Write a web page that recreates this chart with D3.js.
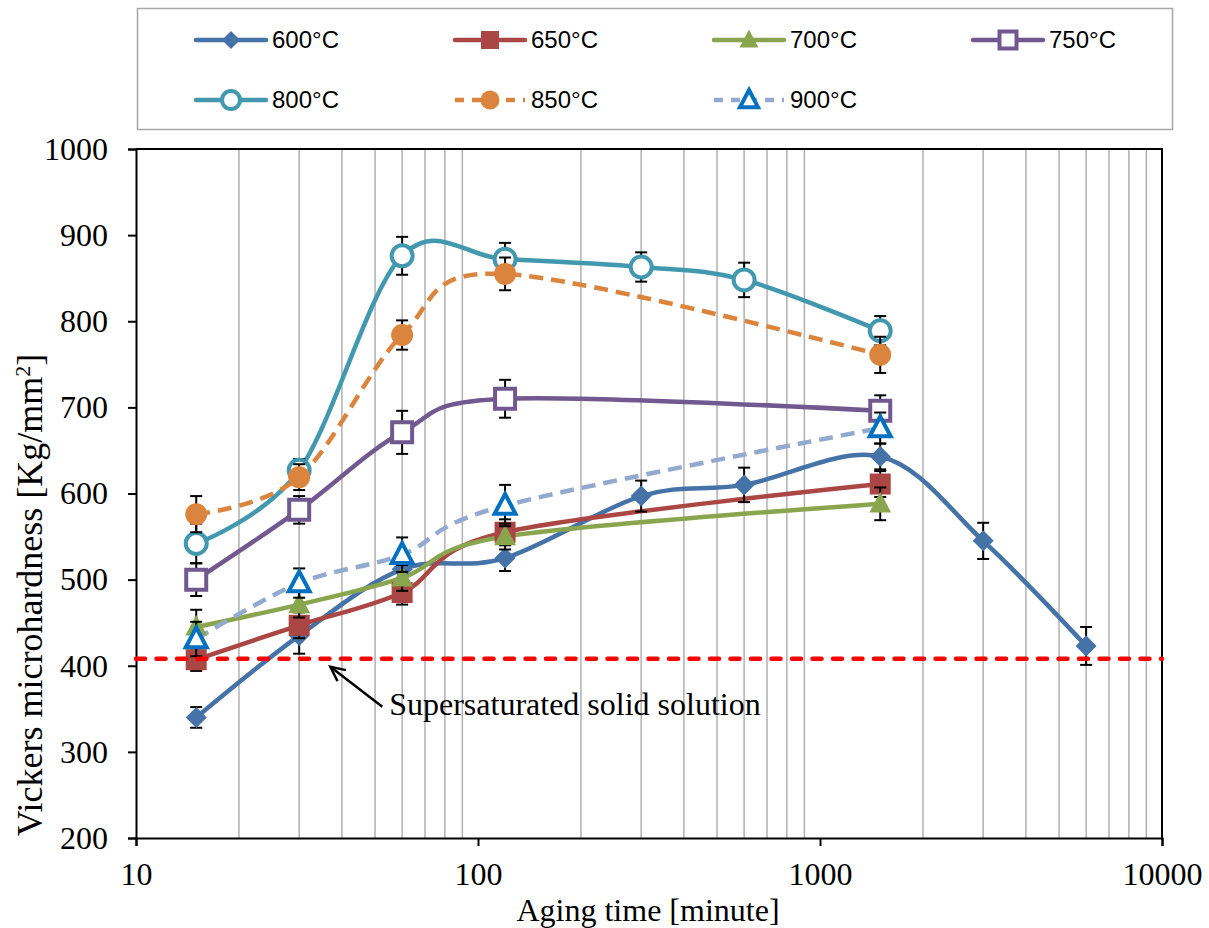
<!DOCTYPE html>
<html>
<head>
<meta charset="utf-8">
<script src="https://cdn.jsdelivr.net/npm/d3@7"></script>
<style>
  body { margin: 0; background: #fff; }
</style>
</head>
<body>
<svg id="chart" width="1209" height="928"></svg>
<script>
// aging times (minutes) and hardness values
const times600 = [15, 30, 60, 120, 300, 600, 1500, 3000, 6000];
const hv600 = [340, 435, 512, 525, 597, 610, 643, 545, 423];
const err600 = [12, 21, 15, 15, 18, 20, 15, 21, 22];

const times650 = [15, 30, 60, 120, 1500];
const hv650 = [407, 447, 485, 555, 611];
const err650 = [13, 15, 14, 15, 15];

const times700 = [15, 30, 60, 120, 1500];
const hv700 = [445, 471, 502, 550, 588];
const err700 = [20, 15, 15, 15, 19];

const times750 = [15, 30, 60, 120, 1500];
const hv750 = [500, 581, 671, 710, 696];
const err750 = [19, 16, 25, 22, 18];

const times800 = [15, 30, 60, 120, 300, 600, 1500];
const hv800 = [542, 627, 876, 872, 863, 848, 789];
const err800 = [23, 13, 22, 19, 17, 20, 17];

const times850 = [15, 30, 60, 120, 1500];
const hv850 = [576, 619, 784, 855, 761];
const err850 = [21, 15, 17, 19, 21];

const times900 = [15, 30, 60, 120, 1500];
const hv900 = [431, 496, 529, 586, 676];
const err900 = [20, 17, 20, 24, 18];

const seriesNames = ["600°C", "650°C", "700°C", "750°C", "800°C", "850°C", "900°C"];
const solidSolution = 408;
const xTickValues = [10, 100, 1000, 10000];
const yTickValues = [200, 300, 400, 500, 600, 700, 800, 900, 1000];

const serif = "'Liberation Serif', 'Times New Roman', serif";
const margin = { top: 149, right: 47, bottom: 90, left: 136 };
const W = 1209, H = 928;
const width = W - margin.left - margin.right;
const height = H - margin.top - margin.bottom;

const svg = d3.select("#chart");

const x = d3.scaleLog().domain([10, 10000]).range([0, width]);
const y = d3.scaleLinear().domain([200, 1000]).range([height, 0]);

const raw = [
  [times600, hv600, err600],
  [times650, hv650, err650],
  [times700, hv700, err700],
  [times750, hv750, err750],
  [times800, hv800, err800],
  [times850, hv850, err850],
  [times900, hv900, err900],
];
const styles = [
  { color: "#4572a7", marker: "diamond", fill: "#4572a7", mstroke: "none", dash: null },
  { color: "#aa4643", marker: "square", fill: "#aa4643", mstroke: "none", dash: null },
  { color: "#89a54e", marker: "triangle", fill: "#89a54e", mstroke: "none", dash: null },
  { color: "#71588f", marker: "square", fill: "#fff", mstroke: "#71588f", dash: null },
  { color: "#4198af", marker: "circle", fill: "#fff", mstroke: "#4198af", dash: null },
  { color: "#db843d", marker: "circle", fill: "#db843d", mstroke: "none", dash: "14,8" },
  { color: "#93a9cf", marker: "triangle", fill: "#fff", mstroke: "#0070c0", dash: "14,8" },
];
const series = raw.map(([t, v, e], i) => ({
  name: seriesNames[i],
  style: styles[i],
  points: t.map((tt, j) => ({ t: tt, v: v[j], e: e[j] })),
}));

const g = svg.append("g").attr("transform", `translate(${margin.left},${margin.top})`);

// minor vertical grid lines
const minor = [];
for (let d = 10; d < 10000; d *= 10) for (let k = 2; k <= 9; k++) minor.push(d * k);
g.append("g").selectAll("line").data(minor).join("line")
  .attr("x1", d => x(d)).attr("x2", d => x(d))
  .attr("y1", 0).attr("y2", height)
  .attr("stroke", "#b0b0b0").attr("stroke-width", 1.5);

// plot frame (top and right)
g.append("path")
  .attr("d", `M0,0H${width}V${height}`)
  .attr("fill", "none").attr("stroke", "#000").attr("stroke-width", 2);

// axes
const xAxis = g.append("g").attr("transform", `translate(0,${height})`)
  .call(d3.axisBottom(x).tickValues(xTickValues).tickFormat(d3.format("d")).tickSize(8).tickPadding(16));
const yAxis = g.append("g")
  .call(d3.axisLeft(y).tickValues(yTickValues).tickFormat(d3.format("d")).tickSize(8).tickPadding(20));
[xAxis, yAxis].forEach(a => {
  a.attr("font-family", serif).attr("font-size", 32);
  a.select(".domain").attr("stroke", "#000").attr("stroke-width", 2);
  a.selectAll(".tick line").attr("stroke", "#000").attr("stroke-width", 2);
  a.selectAll(".tick text").attr("fill", "#000");
});
xAxis.selectAll(".tick text").attr("dy", "0.71em");

const line = d3.line()
  .x(d => x(d.t)).y(d => y(d.v))
  .curve(d3.curveCardinal.tension(0));

function markerPath(type, s) {
  if (type === "diamond") return `M0,${-s}L${s},0L0,${s}L${-s},0Z`;
  if (type === "square") return `M${-s},${-s}H${s}V${s}H${-s}Z`;
  if (type === "triangle") return `M0,${-s * 1.05}L${s * 0.95},${s * 0.75}H${-s * 0.95}Z`;
  return null;
}

function drawMarker(sel, st, size) {
  if (st.marker === "circle") {
    sel.append("circle").attr("r", st.mstroke === "none" ? size + 1 : size + 0.5)
      .attr("fill", st.fill)
      .attr("stroke", st.mstroke).attr("stroke-width", 4);
  } else {
    const open = st.mstroke !== "none";
    sel.append("path").attr("d", markerPath(st.marker, open ? size - 0.5 : size))
      .attr("fill", st.fill)
      .attr("stroke", st.mstroke).attr("stroke-width", 4)
      .attr("stroke-linejoin", "miter");
  }
}

const sizes = { diamond: 10.5, square: 10.5, triangle: 11.5, circle: 10 };

// lines
series.forEach(s => {
  g.append("path").datum(s.points)
    .attr("d", line)
    .attr("fill", "none")
    .attr("stroke", s.style.color)
    .attr("stroke-width", 4.5)
    .attr("stroke-dasharray", s.style.dash)
    .attr("stroke-linecap", s.style.dash ? "butt" : "round");
});

// error bars and markers
series.forEach(s => {
  const eb = g.append("g").selectAll("g").data(s.points).join("g")
    .attr("transform", d => `translate(${x(d.t)},0)`);
  eb.append("line").attr("y1", d => y(d.v - d.e)).attr("y2", d => y(d.v + d.e))
    .attr("stroke", "#000").attr("stroke-width", 2);
  eb.append("line").attr("x1", -6).attr("x2", 6).attr("y1", d => y(d.v + d.e)).attr("y2", d => y(d.v + d.e))
    .attr("stroke", "#000").attr("stroke-width", 2);
  eb.append("line").attr("x1", -6).attr("x2", 6).attr("y1", d => y(d.v - d.e)).attr("y2", d => y(d.v - d.e))
    .attr("stroke", "#000").attr("stroke-width", 2);

  const m = g.append("g").selectAll("g").data(s.points).join("g")
    .attr("transform", d => `translate(${x(d.t)},${y(d.v)})`);
  m.each(function () { drawMarker(d3.select(this), s.style, sizes[s.style.marker]); });
});

// supersaturated solid solution level
g.append("line")
  .attr("x1", 0).attr("x2", width)
  .attr("y1", y(solidSolution)).attr("y2", y(solidSolution))
  .attr("stroke", "#ff0000").attr("stroke-width", 4.5)
  .attr("stroke-dasharray", "9,11.5").attr("stroke-linecap", "round");

// annotation arrow
const tip = [x(37), y(solidSolution) + 8];
const tail = [x(52.5), y(solidSolution) + 48];
g.append("line")
  .attr("x1", tail[0]).attr("y1", tail[1]).attr("x2", tip[0]).attr("y2", tip[1])
  .attr("stroke", "#000").attr("stroke-width", 2.5);
const ang = Math.atan2(tail[1] - tip[1], tail[0] - tip[0]);
const hl = 16, spread = 0.45;
g.append("path")
  .attr("d", `M${tip[0] + hl * Math.cos(ang - spread)},${tip[1] + hl * Math.sin(ang - spread)}L${tip[0]},${tip[1]}L${tip[0] + hl * Math.cos(ang + spread)},${tip[1] + hl * Math.sin(ang + spread)}`)
  .attr("fill", "none").attr("stroke", "#000").attr("stroke-width", 2.5);
g.append("text")
  .attr("x", x(55)).attr("y", y(solidSolution) + 56)
  .attr("font-family", serif).attr("font-size", 32).attr("fill", "#000")
  .text("Supersaturated solid solution");

// axis titles
svg.append("text")
  .attr("x", margin.left + width / 2 - 1).attr("y", 921)
  .attr("text-anchor", "middle")
  .attr("font-family", serif).attr("font-size", 32).attr("fill", "#000")
  .text("Aging time [minute]");
const yt = svg.append("text")
  .attr("transform", `translate(42,${595}) rotate(-90)`)
  .attr("text-anchor", "middle")
  .attr("font-family", serif).attr("font-size", 36).attr("fill", "#000");
yt.append("tspan").text("Vickers microhardness [Kg/mm");
yt.append("tspan").attr("baseline-shift", "super").attr("font-size", 22).text("2");
yt.append("tspan").text("]");

// legend
const legend = svg.append("g");
legend.append("rect")
  .attr("x", 137.5).attr("y", 8.5).attr("width", 1035).attr("height", 121)
  .attr("fill", "#fff").attr("stroke", "#a6a6a6").attr("stroke-width", 1.5);
const colX = [196, 455, 714, 973];
const rowY = [40, 100];
series.forEach((s, i) => {
  const lx = colX[i % 4], ly = rowY[Math.floor(i / 4)];
  const item = legend.append("g").attr("transform", `translate(${lx},${ly})`);
  item.append("line").attr("x1", 0).attr("x2", 70).attr("y1", 0).attr("y2", 0)
    .attr("stroke", s.style.color).attr("stroke-width", 4.5)
    .attr("stroke-dasharray", s.style.dash ? "9,8" : null)
    .attr("stroke-linecap", s.style.dash ? "butt" : "round");
  const mk = item.append("g").attr("transform", "translate(35,0)");
  drawMarker(mk, s.style, sizes[s.style.marker] - 1.5);
  item.append("text").attr("x", 76).attr("y", 0).attr("dy", "0.35em")
    .attr("font-family", "'Liberation Sans Narrow', 'Arial Narrow', 'Liberation Sans', sans-serif")
    .attr("font-size", 24).attr("fill", "#000")
    .text(s.name);
});
</script>
</body>
</html>
